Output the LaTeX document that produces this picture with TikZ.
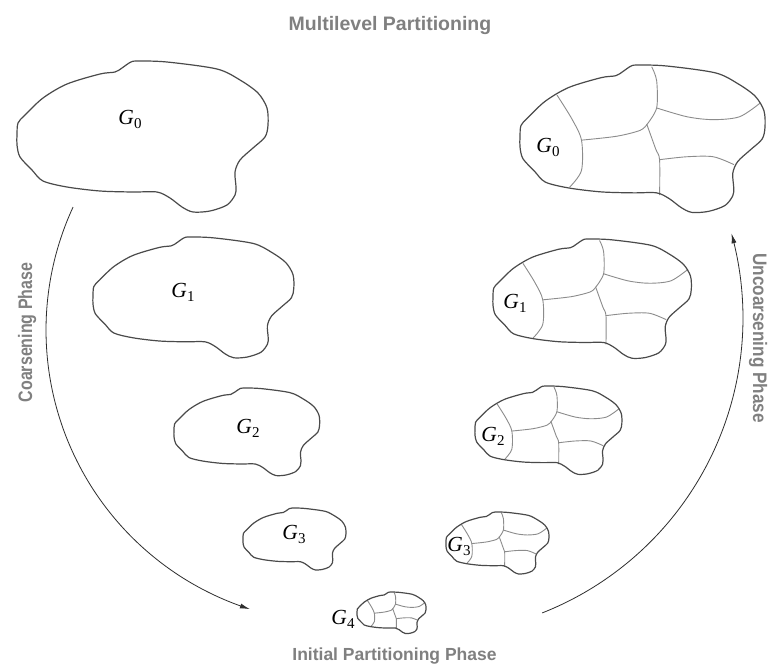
\documentclass[tikz,border=0pt]{standalone}
\usepackage{fontspec}
\newfontfamily\lsans{Liberation Sans}
\newfontfamily\lserif{Liberation Serif}
\usetikzlibrary{arrows.meta}
\definecolor{outl}{HTML}{4A4A4A}
\definecolor{part}{HTML}{8C8C8C}
\definecolor{ttl}{HTML}{808080}
\definecolor{arr}{HTML}{2E2E2E}
\newcommand{\glab}[1]{{\itshape G}\kern0.3pt\raisebox{-4pt}{\fontsize{15}{17}\selectfont #1}}
\tikzset{
  blobline/.style={draw=outl, line width=1.2pt, line join=round},
  partline/.style={draw=part, line width=0.9pt, line cap=round, line join=round},
  glabel/.style={font=\lserif\fontsize{21.5}{24}\selectfont, inner sep=0pt},
  ttlstyle/.style={font=\lsans\bfseries\fontsize{19.5}{22}\selectfont, text=ttl, inner sep=0pt, anchor=base},
  initstyle/.style={font=\lsans\bfseries\fontsize{17.5}{20}\selectfont, text=ttl, inner sep=0pt, anchor=base},
  phase/.style={font=\lsans\bfseries\fontsize{19.5}{22}\selectfont, text=ttl, inner sep=0pt, anchor=base},
  flow/.style={draw=arr, line width=0.8pt, -{Latex[length=10pt,width=5pt]}},
  blob/.pic={
    \draw[blobline] plot[smooth cycle, tension=0.5] coordinates {
      (0,84) (0,74) (1,62) (8,54) (26,37) (50,23) (83,13) (98,11) (105,7)
      (113,1.5) (120,0) (150,1) (200,8) (223,19) (241,32) (250,47) (251,64)
      (248,76) (236,87) (223,99) (218,111) (219,126) (218,134) (210,144)
      (193,150) (176,151) (165,146) (153,137) (140,131) (116,131) (83,130)
      (50,126) (26,120) (15,109) (3,96)};
  },
  blobparts/.pic={
    \draw[partline] plot[smooth, tension=0.5] coordinates {(38,31) (53,55) (63,77) (63,108) (51,125)};
    \draw[partline] plot[smooth, tension=0.5] coordinates {(135,2) (140,16) (140,44) (130,61)};
    \draw[partline] plot[smooth, tension=0.5] coordinates {(63,77) (99,73) (123,67) (130,61)};
    \draw[partline] plot[smooth, tension=0.5] coordinates {(130,61) (139,86) (143,97) (143,133)};
    \draw[partline] plot[smooth, tension=0.5] coordinates {(140,44) (171,53) (198,56) (225,53) (246,39)};
    \draw[partline] plot[smooth, tension=0.5] coordinates {(143,97) (171,94) (198,94) (219,102)};
    \draw[blobline] plot[smooth cycle, tension=0.5] coordinates {
      (0,84) (0,74) (1,62) (8,54) (26,37) (50,23) (83,13) (98,11) (105,7)
      (113,1.5) (120,0) (150,1) (200,8) (223,19) (241,32) (250,47) (251,64)
      (248,76) (236,87) (223,99) (218,111) (219,126) (218,134) (210,144)
      (193,150) (176,151) (165,146) (153,137) (140,131) (116,131) (83,130)
      (50,126) (26,120) (15,109) (3,96)};
  }
}
\begin{document}
\begin{tikzpicture}[x=1pt,y=-1pt]
\useasboundingbox[fill=white] (0,0) rectangle (771,664);

% left column: coarsening
\path (17,61) pic[scale=1.0] {blob};
\path (93,237) pic[scale=0.80] {blob};
\path (174,388) pic[scale=0.58] {blob};
\path (243,508) pic[scale=0.41] {blob};

% right column: uncoarsening
\path (520,65) pic[scale=0.976] {blobparts};
\path (493,239) pic[scale=0.79] {blobparts};
\path (475,386) pic[scale=0.585] {blobparts};
\path (446,512) pic[scale=0.41] {blobparts};
\path (357,592) pic[scale=0.275] {blobparts};

% labels
\node[glabel] (g0l) at (130,119) {\glab{0}};
\node[glabel] (g1l) at (183,292) {\glab{1}};
\node[glabel] (g2l) at (248,428) {\glab{2}};
\node[glabel] (g3l) at (294,534) {\glab{3}};
\node[glabel] (g4) at (343,619) {\glab{4}};
\node[glabel] (g0r) at (548,147) {\glab{0}};
\node[glabel] (g1r) at (515,303) {\glab{1}};
\node[glabel] (g2r) at (493,436) {\glab{2}};
\node[glabel] (g3r) at (459,546) {\glab{3}};

% titles
\node[ttlstyle] (title) at (390,30) {Multilevel Partitioning};
\node[initstyle] (init) at (394.5,660) {Initial Partitioning Phase};
\node[phase, rotate=90] (coarse) at (32,332.5) {\scalebox{0.82}[1]{Coarsening Phase}};
\node[phase, rotate=-90] (uncoarse) at (753,338) {\scalebox{0.88}[1]{Uncoarsening Phase}};

% phase arrows
\draw[flow] plot[domain=204.8:107.7, samples=90, variable=\t] ({339+293*cos(\t)},{330+293*sin(\t)});
\draw[flow] plot[domain=68.5:-15.5, samples=90, variable=\t] ({426+317*cos(\t)},{318+317*sin(\t)});
\end{tikzpicture}
\end{document}
